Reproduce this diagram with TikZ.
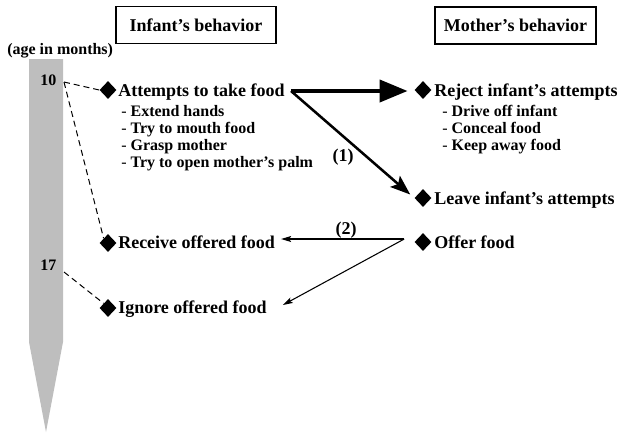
\documentclass[tikz,border=0pt]{standalone}
\usepackage{fontspec}
\setmainfont{Liberation Serif}
\usetikzlibrary{shapes.geometric,arrows.meta,calc}
\definecolor{bargray}{RGB}{190,190,190}
\begin{document}
\begin{tikzpicture}[x=0.75pt,y=-0.75pt,
  headbox/.style={draw, line width=0.8pt, minimum width=120pt, minimum height=27.5pt,
    inner sep=0pt, font=\fontsize{13.5}{16}\selectfont\bfseries},
  itemdiamond/.style={diamond, fill=black, inner sep=0pt,
    minimum width=12.75pt, minimum height=13.5pt},
  itemtext/.style={anchor=base west, inner sep=0pt, font=\fontsize{13.5}{16}\selectfont\bfseries},
  subtext/.style={anchor=base west, inner sep=0pt, font=\fontsize{12}{14}\selectfont\bfseries},
  agetext/.style={anchor=base west, inner sep=0pt, font=\fontsize{12}{14}\selectfont\bfseries},
  agelink/.style={dash pattern=on 4.5pt off 3pt, line width=0.75pt},
  strongarrow/.style={line width=3pt, -{Triangle[length=21pt, width=16.5pt]}},
  midarrow/.style={line width=1.9pt, -{Stealth[length=15pt, width=11pt, inset=3pt]}},
  thinarrow/.style={line width=0.8pt, -{Stealth[length=7.5pt, width=4.5pt, inset=1.5pt]}},
  pathlabel/.style={inner sep=0pt, font=\fontsize{13.5}{16}\selectfont\bfseries}
]
\useasboundingbox (0,0) rectangle (621,433);

% column headings
\node[headbox] (infHead) at (196,25) {Infant's behavior};
\node[headbox, minimum width=120.75pt, minimum height=27.75pt] (motHead) at (515.5,25.5) {Mother's behavior};

% age scale
\node[agetext] (ageLabel) at (7,54) {(age in months)};
\fill[bargray] (29,59) -- (63,59) -- (63,342) -- (46,432) -- (29,342) -- cycle;
\node[agetext] (age10) at (40,85) {10};
\node[agetext] (age17) at (40,270) {17};
\coordinate (bar10) at (64,82);
\coordinate (bar17) at (64,272);

% infant's behaviour
\node[itemdiamond] (dAtt) at (108,90) {};
\node[itemtext] (tAtt) at (118,96) {Attempts to take food};
\node[subtext] (sAtt1) at (121,116) {{\mdseries -} Extend hands};
\node[subtext] (sAtt2) at (121,133) {{\mdseries -} Try to mouth food};
\node[subtext] (sAtt3) at (121,150) {{\mdseries -} Grasp mother};
\node[subtext] (sAtt4) at (121,167) {{\mdseries -} Try to open mother's palm};

\node[itemdiamond] (dRec) at (108,243) {};
\node[itemtext] (tRec) at (118,248.5) {Receive offered food};

\node[itemdiamond] (dIgn) at (108,308) {};
\node[itemtext] (tIgn) at (118,313.5) {Ignore offered food};

% mother's behaviour
\node[itemdiamond] (dRej) at (423,90) {};
\node[itemtext] (tRej) at (434,96) {Reject infant's attempts};
\node[subtext] (sRej1) at (442,116) {{\mdseries -} Drive off infant};
\node[subtext] (sRej2) at (442,133) {{\mdseries -} Conceal food};
\node[subtext] (sRej3) at (442,150) {{\mdseries -} Keep away food};

\node[itemdiamond] (dLea) at (423,198) {};
\node[itemtext] (tLea) at (434,204) {Leave infant's attempts};

\node[itemdiamond] (dOff) at (423,242) {};
\node[itemtext] (tOff) at (434,248) {Offer food};

% age links
\draw[agelink] (bar10) -- (dAtt.west);
\draw[agelink] (bar10) -- (dRec.north west);
\draw[agelink] (bar17) -- (dIgn.north west);

% responses to the infant's attempts
\coordinate (fork) at ($(tAtt.east |- dRej.west)+(6,1)$);
\draw[strongarrow, shorten >=5pt] (fork) -- (fork -| dRej.west);
\draw[midarrow, shorten >=4pt] (fork) -- (dLea.west);
\node[pathlabel] (lab1) at (343,157) {(1)};

% outcomes of offering food
\coordinate (offTail) at ($(dOff.west)+(-10,-3)$);
\coordinate (recTip) at ($(tRec.east)+(6,0)$);
\coordinate (ignTip) at ($(tIgn.east)+(16,0)$);
\draw[thinarrow] (offTail) -- (recTip |- offTail);
\draw[thinarrow] (offTail) -- (ignTip |- 0,305);
\node[pathlabel] (lab2) at (346,230) {(2)};
\end{tikzpicture}
\end{document}
